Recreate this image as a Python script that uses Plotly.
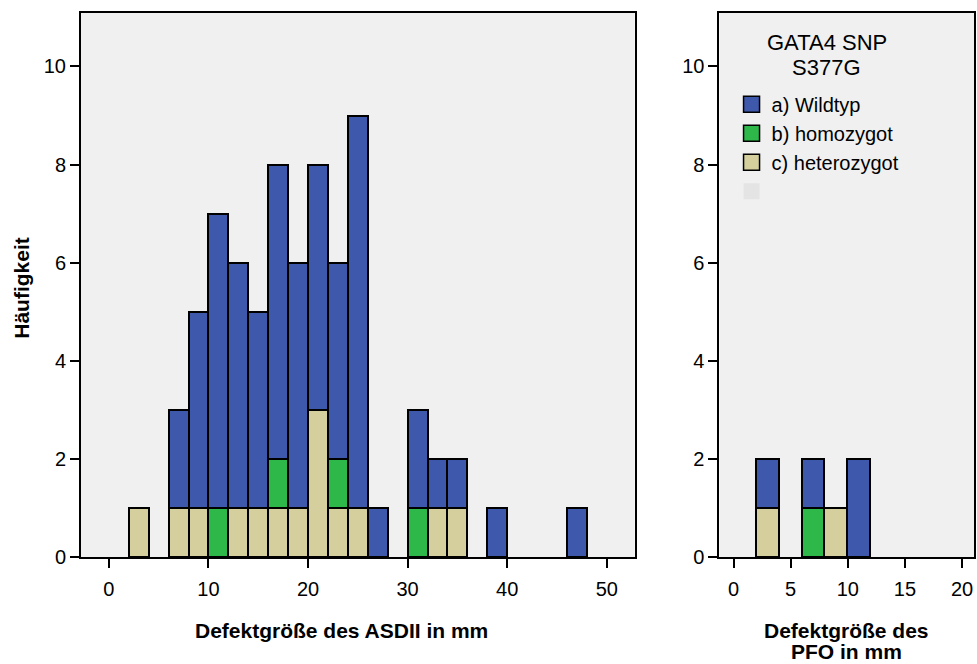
import plotly.graph_objects as go

# ASD II panel (bin centres, bin width 2 mm)
asd_centers = [3, 7, 9, 11, 13, 15, 17, 19, 21, 23, 25, 27, 31, 33, 35, 39, 47]
asd_het =     [1, 1, 1, 0, 1, 1, 1, 1, 3, 1, 1, 0, 0, 1, 1, 0, 0]
asd_homo =    [0, 0, 0, 1, 0, 0, 1, 0, 0, 1, 0, 0, 1, 0, 0, 0, 0]
asd_wild =    [0, 2, 4, 6, 5, 4, 6, 5, 5, 4, 8, 1, 2, 1, 1, 1, 1]

# PFO panel
pfo_centers = [3, 7, 9, 11]
pfo_het =     [1, 0, 1, 0]
pfo_homo =    [0, 1, 0, 0]
pfo_wild =    [1, 1, 0, 2]

bin_width = 2
names = {"wild": "a) Wildtyp", "homo": "b) homozygot", "het": "c) heterozygot"}
colors = {"wild": "#3e58ac", "homo": "#2eb84a", "het": "#d4cf9c"}
FONT = "Liberation Sans, Arial"

def nz(v):
    return [x if x else None for x in v]

fig = go.Figure()

for key, a_vals, p_vals in [("het", asd_het, pfo_het), ("homo", asd_homo, pfo_homo), ("wild", asd_wild, pfo_wild)]:
    fig.add_trace(go.Bar(x=asd_centers, y=nz(a_vals), width=bin_width, name=names[key],
                         marker=dict(color=colors[key], line=dict(color="black", width=2)),
                         xaxis="x", yaxis="y", showlegend=False))
    fig.add_trace(go.Bar(x=pfo_centers, y=nz(p_vals), width=bin_width, name=names[key],
                         marker=dict(color=colors[key], line=dict(color="black", width=2)),
                         xaxis="x2", yaxis="y2", showlegend=False))

# legend entries (square swatches)
for key in ["wild", "homo", "het"]:
    fig.add_trace(go.Scatter(x=[None], y=[None], mode="markers", name=names[key],
                             marker=dict(symbol="square", size=20, color=colors[key],
                                         line=dict(color="black", width=1.5)),
                             xaxis="x2", yaxis="y2"))
fig.add_trace(go.Scatter(x=[None], y=[None], mode="markers", name=" ",
                         marker=dict(symbol="square", size=20, color="#e4e4e4", line=dict(width=0)),
                         xaxis="x2", yaxis="y2"))

axis_common = dict(showline=True, linecolor="black", linewidth=2, mirror=True,
                   ticks="outside", ticklen=9, tickwidth=2, tickcolor="black",
                   showgrid=False, zeroline=False,
                   tickfont=dict(family=FONT, size=20, color="black"))

fig.update_layout(
    width=977, height=664,
    margin=dict(l=81, r=1, t=13, b=107),
    paper_bgcolor="white", plot_bgcolor="#f0f0f0",
    barmode="stack", bargap=0,
    font=dict(family=FONT, size=20, color="black"),
    xaxis=dict(domain=[0, 0.62], range=[-2.8, 52.8], tickvals=[0, 10, 20, 30, 40, 50],
               ticklabelstandoff=4, **axis_common),
    yaxis=dict(domain=[0, 1], range=[0, 11.09], tickvals=[0, 2, 4, 6, 8, 10], **axis_common),
    xaxis2=dict(domain=[0.715, 1], range=[-1.23, 21.05], tickvals=[0, 5, 10, 15, 20], anchor="y2",
                ticklabelstandoff=4, **axis_common),
    yaxis2=dict(domain=[0, 1], range=[0, 11.09], tickvals=[0, 2, 4, 6, 8, 10], anchor="x2", **axis_common),
    legend=dict(x=0.7285, y=0.868, xanchor="left", yanchor="top", traceorder="normal",
                bgcolor="rgba(0,0,0,0)", font=dict(family=FONT, size=20),
                itemsizing="trace", tracegroupgap=0),
    annotations=[
        dict(text="<b>Häufigkeit</b>", textangle=-90, xref="paper", yref="paper",
             x=-0.066, y=0.495, showarrow=False, font=dict(size=21), xanchor="center", yanchor="middle"),
        dict(text="<b>Defektgröße des ASDII in mm</b>", xref="paper", yref="paper",
             x=0.292, y=-0.136, showarrow=False, font=dict(size=21), xanchor="center", yanchor="middle"),
        dict(text="<b>Defektgröße des</b>", xref="paper", yref="paper",
             x=0.857, y=-0.136, showarrow=False, font=dict(size=21), xanchor="center", yanchor="middle"),
        dict(text="<b>PFO in mm</b>", xref="paper", yref="paper",
             x=0.857, y=-0.1746, showarrow=False, font=dict(size=21), xanchor="center", yanchor="middle"),
        dict(text="GATA4 SNP", xref="paper", yref="paper",
             x=0.835, y=0.9449, showarrow=False, font=dict(size=22), xanchor="center", yanchor="middle"),
        dict(text="S377G", xref="paper", yref="paper",
             x=0.835, y=0.8989, showarrow=False, font=dict(size=22), xanchor="center", yanchor="middle"),
    ],
)

fig.write_html("out.html", config={"displayModeBar": False},
               post_script="document.body.style.margin='0';document.body.style.overflow='hidden';")
